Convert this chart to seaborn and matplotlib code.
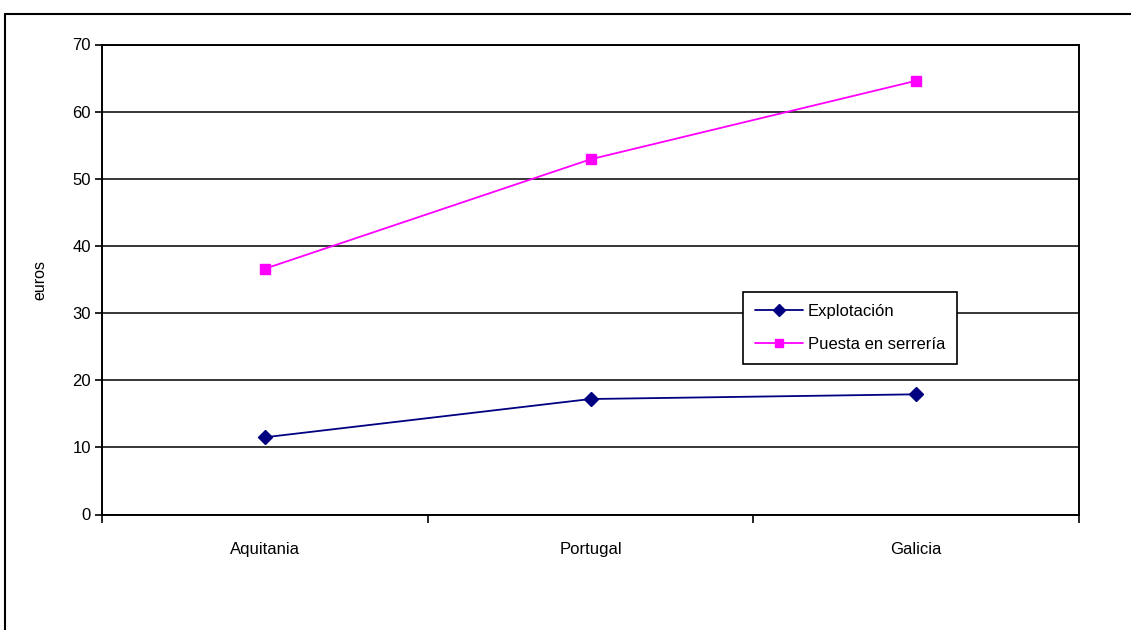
import matplotlib
matplotlib.use("Agg")
import matplotlib.pyplot as plt
import matplotlib.lines as mlines
import seaborn as sns
import pandas as pd

categories = ["Aquitania", "Portugal", "Galicia"]
explotacion = [11.5, 17.2, 17.9]
puesta = [36.6, 52.9, 64.6]
series_names = ["Explotación", "Puesta en serrería"]

df = pd.DataFrame({
    "region": categories * 2,
    "valor": explotacion + puesta,
    "serie": [series_names[0]] * 3 + [series_names[1]] * 3,
})
df["pos"] = [0, 1, 2] * 2

sns.set_theme(style="white")
plt.rcParams["font.family"] = ["Liberation Sans", "DejaVu Sans"]
plt.rcParams["text.color"] = "black"
plt.rcParams["axes.labelcolor"] = "black"
plt.rcParams["xtick.color"] = "black"
plt.rcParams["ytick.color"] = "black"

fig = plt.figure(figsize=(11.31, 6.30), dpi=100)
ax = fig.add_axes([102 / 1131, 1 - 514.5 / 630, (1079 - 102) / 1131, (514.5 - 44.5) / 630])

colors = ["#000080", "#FF00FF"]
palette = {series_names[0]: colors[0], series_names[1]: colors[1]}
markers = {series_names[0]: "D", series_names[1]: "s"}
sns.lineplot(data=df, x="pos", y="valor", hue="serie", style="serie",
             palette=palette, markers=markers, dashes=False, ax=ax,
             linewidth=1.3, legend=False, zorder=3)
for ln in ax.lines:
    ln.set_markersize(7)
    ln.set_markeredgewidth(1)
    ln.set_markeredgecolor(ln.get_color())

ax.set_xlim(-0.5, 2.5)
ax.set_ylim(0, 70)
ax.set_yticks(range(0, 71, 10))
ax.yaxis.grid(True, color="black", linewidth=1.1)
ax.xaxis.grid(False)
ax.set_axisbelow(True)
for s in ax.spines.values():
    s.set_color("black")
    s.set_linewidth(1.4)

ax.set_xticks([-0.5, 0.5, 1.5, 2.5])
ax.set_xticklabels([])
ax.set_xticks([0, 1, 2], minor=True)
ax.set_xticklabels(categories, minor=True)
ax.tick_params(axis="x", which="major", direction="out", length=6, width=1.2,
               color="black", bottom=True)
ax.tick_params(axis="x", which="minor", length=0, pad=20, labelsize=12,
               labelcolor="black")
ax.tick_params(axis="y", direction="out", length=5, width=1.2, color="black",
               left=True, labelsize=12, pad=3, labelcolor="black")
ax.set_xlabel("")
ax.set_ylabel("euros", fontsize=11.5, labelpad=18, color="black")

handles = [
    mlines.Line2D([], [], color=colors[0], marker="D", markersize=6, linewidth=1.3),
    mlines.Line2D([], [], color=colors[1], marker="s", markersize=6, linewidth=1.3),
]
leg = ax.legend(handles, series_names, loc="upper left",
                bbox_to_anchor=(743 / 1131, 1 - 292 / 630),
                bbox_transform=fig.transFigure, frameon=True, fancybox=False,
                edgecolor="black", framealpha=1, fontsize=12,
                handlelength=2.9, borderpad=0.7, labelspacing=1.1,
                handletextpad=0.3, borderaxespad=0)
leg.get_frame().set_linewidth(1.2)
for t in leg.get_texts():
    t.set_color("black")

# outer frame (top and left edges)
fig.add_artist(mlines.Line2D([5 / 1131, 1], [1 - 14 / 630, 1 - 14 / 630],
                             transform=fig.transFigure, color="black", linewidth=1.5))
fig.add_artist(mlines.Line2D([5 / 1131, 5 / 1131], [0, 1 - 14 / 630],
                             transform=fig.transFigure, color="black", linewidth=1.5))

fig.savefig("out.png", dpi=100)
